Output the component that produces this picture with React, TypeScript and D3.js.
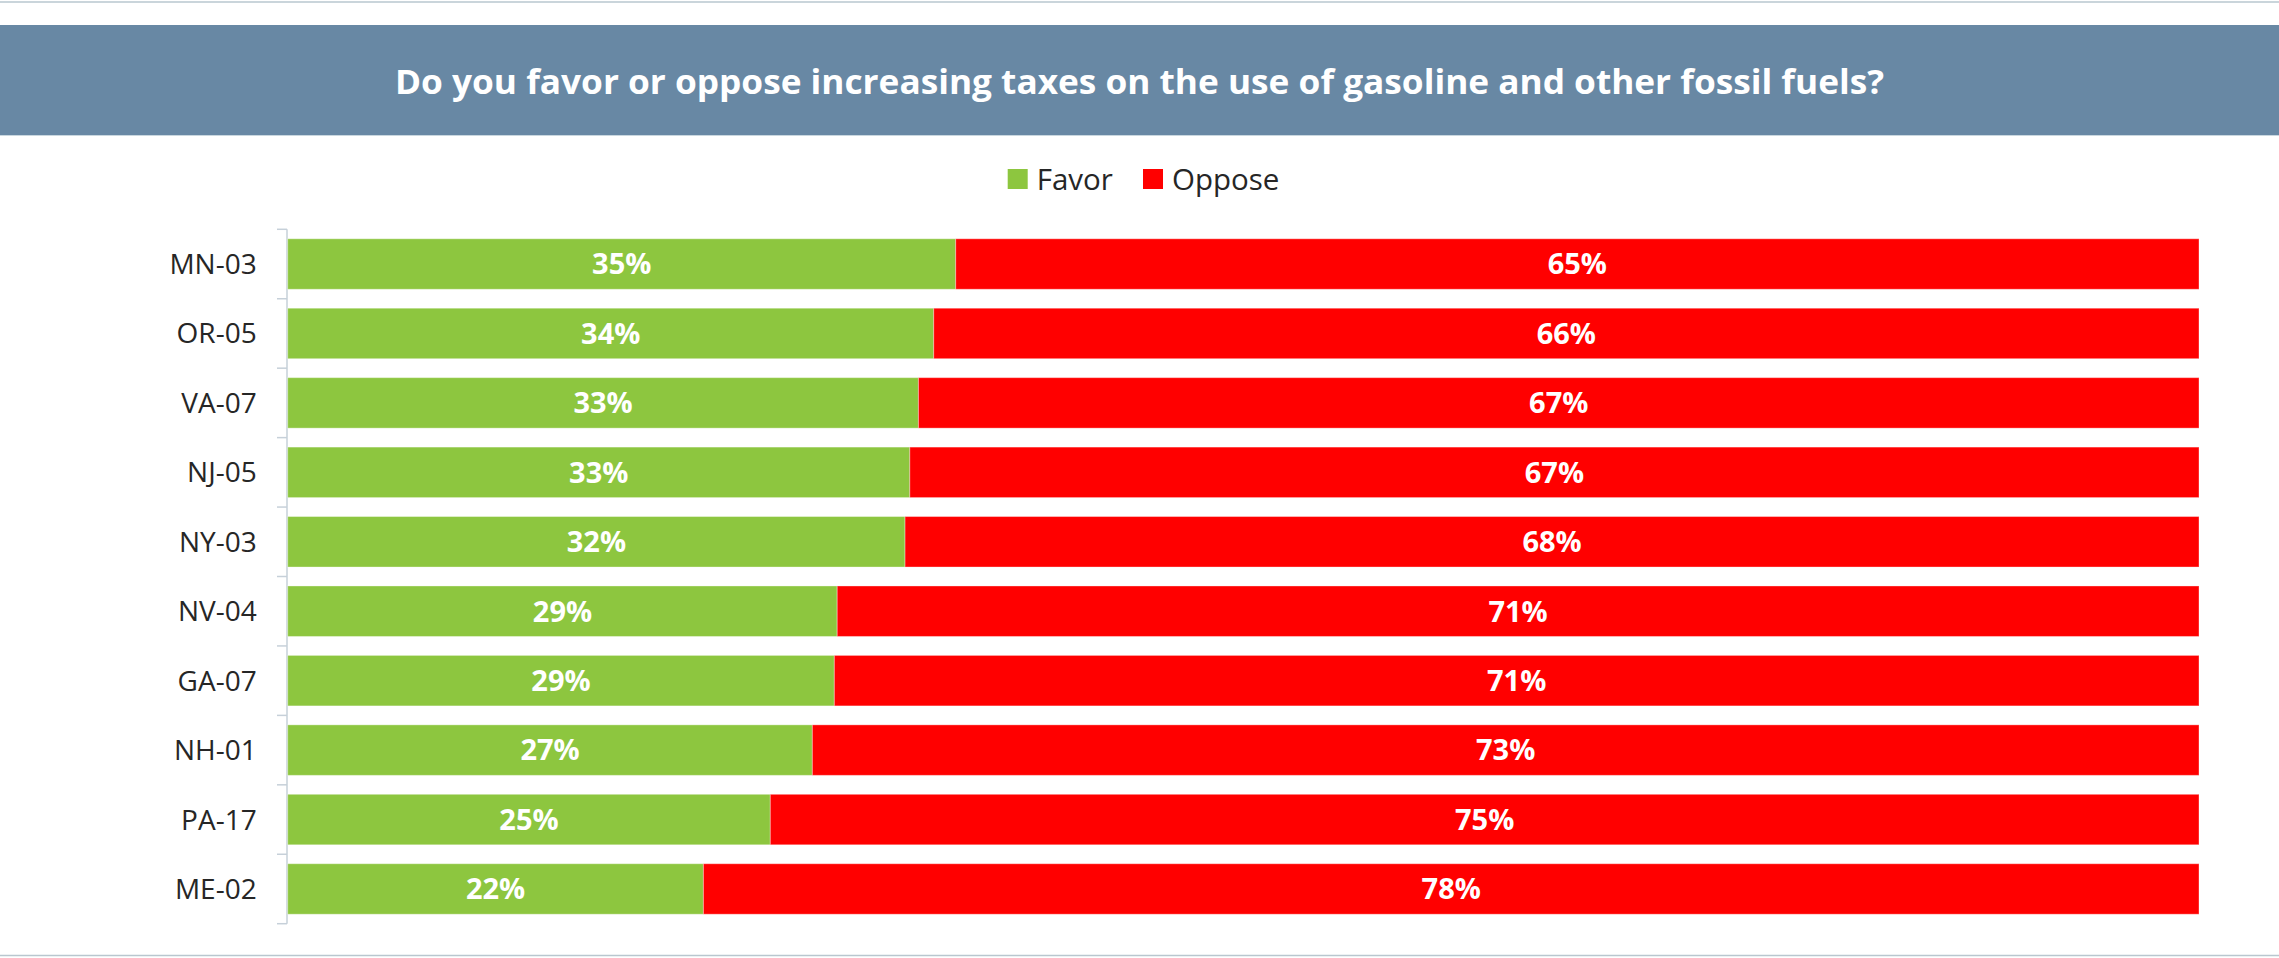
import React from "react";
import * as d3 from "d3";

const title = "Do you favor or oppose increasing taxes on the use of gasoline and other fossil fuels?";
const districts = ["MN-03", "OR-05", "VA-07", "NJ-05", "NY-03", "NV-04", "GA-07", "NH-01", "PA-17", "ME-02"];
const favor = [34.95, 33.8, 33.0, 32.55, 32.3, 28.75, 28.6, 27.45, 25.25, 21.75];
const oppose = [65.05, 66.2, 67.0, 67.45, 67.7, 71.25, 71.4, 72.55, 74.75, 78.25];
const seriesNames = ["Favor", "Oppose"];
const seriesColors = ["#8dc63f", "#ff0000"];

const W = 2279;
const H = 958;

export default function App() {
  const x = d3.scaleLinear().domain([0, 100]).range([287.7, 2199]);
  const y = d3
    .scaleBand<string>()
    .domain(districts)
    .range([229.3, 923.7])
    .paddingInner(0.273)
    .paddingOuter(0.1365);

  const rows = districts.map((d, i) => ({ d, f: favor[i], o: oppose[i] }));
  const stack = d3.stack<any>().keys(["f", "o"])(rows as any);

  const step = y.step();
  const [r0] = y.range();
  const ticks = d3.range(districts.length + 1).map((i) => r0 + i * step);

  const font = "'Open Sans', 'Noto Sans', sans-serif";
  const lblSize = 29;

  return (
    <svg
      width={W}
      height={H}
      style={{ position: "fixed", left: 0, top: 0, display: "block", background: "#fff" }}
    >
      <rect x={0} y={0} width={W} height={H} fill="#ffffff" />
      <line x1={0} x2={W} y1={2} y2={2} stroke="#b9c7cf" strokeWidth={1.5} />
      <line x1={0} x2={W} y1={955.5} y2={955.5} stroke="#b9c7cf" strokeWidth={1.5} />
      <rect x={0} y={25} width={W} height={110} fill="#6888a4" />
      <line x1={0} x2={W} y1={135.5} y2={135.5} stroke="#c9d7df" strokeWidth={1} />
      <text
        x={W / 2}
        y={94}
        textAnchor="middle"
        fill="#ffffff"
        fontFamily={font}
        fontWeight={700}
        fontSize={34}
        textLength={1489}
        lengthAdjust="spacingAndGlyphs"
      >
        {title}
      </text>

      {/* legend */}
      {seriesNames.map((s, i) => {
        const lx = i === 0 ? 1007.7 : 1143;
        return (
          <g key={s}>
            <rect x={lx} y={169} width={20} height={20} fill={seriesColors[i]} />
            <text x={lx + 29} y={190} fill="#262626" fontFamily={font} fontSize={29.5}>
              {s}
            </text>
          </g>
        );
      })}

      {/* axis */}
      <line x1={287} x2={287} y1={ticks[0]} y2={ticks[ticks.length - 1]} stroke="#c6d0d9" strokeWidth={1.5} />
      {ticks.map((t, i) => (
        <line key={i} x1={277} x2={287} y1={t} y2={t} stroke="#c6d0d9" strokeWidth={1.5} />
      ))}
      {districts.map((d) => (
        <text
          key={d}
          x={256.7}
          y={(y(d) as number) + y.bandwidth() / 2 + 10}
          textAnchor="end"
          fill="#262626"
          fontFamily={font}
          fontSize={28}
        >
          {d}
        </text>
      ))}

      {/* bars */}
      {stack.map((layer, si) => (
        <g key={si}>
          {layer.map((seg: any, i: number) => {
            const d = districts[i];
            const x0 = x(seg[0]);
            const x1 = x(seg[1]);
            const yy = y(d) as number;
            const bw = y.bandwidth();
            const val = si === 0 ? favor[i] : oppose[i];
            return (
              <g key={d}>
                <rect
                  x={x0}
                  y={yy}
                  width={x1 - x0}
                  height={bw}
                  fill={seriesColors[si]}
                  stroke="#ffffff"
                  strokeOpacity={0.35}
                  strokeWidth={1}
                />
                <text
                  x={(x0 + x1) / 2}
                  y={yy + bw / 2 + lblSize * 0.357}
                  textAnchor="middle"
                  fill="#ffffff"
                  fontFamily={font}
                  fontWeight={700}
                  fontSize={lblSize}
                >
                  {Math.round(val) + "%"}
                </text>
              </g>
            );
          })}
        </g>
      ))}
    </svg>
  );
}
